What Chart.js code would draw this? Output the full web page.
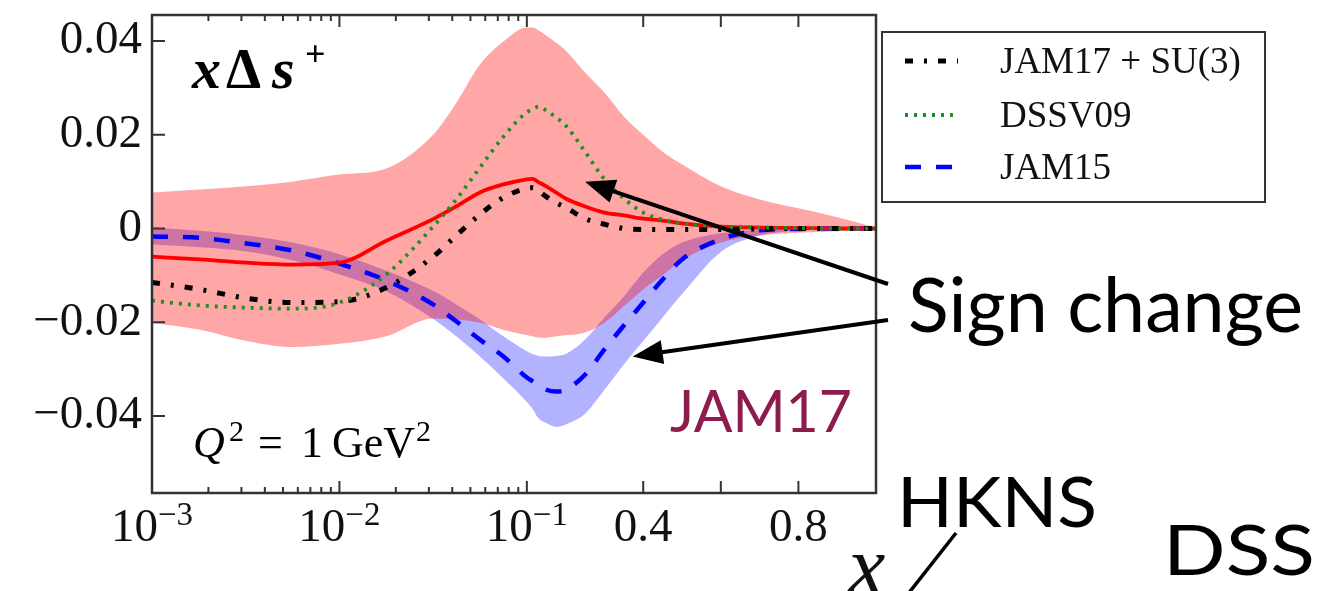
<!DOCTYPE html>
<html><head><meta charset="utf-8">
<script src="https://cdn.jsdelivr.net/npm/chart.js@4.4.1/dist/chart.umd.min.js"></script>
<style>html,body{margin:0;padding:0;background:#fff;overflow:hidden}canvas{display:block}</style>
</head><body>
<canvas id="c" width="1329" height="591"></canvas>
<script>
// ---------------- data ----------------
const xValues = [0.001, 0.0018, 0.0032, 0.0056, 0.01, 0.0178, 0.0316, 0.042, 0.0562, 0.075, 0.1, 0.115, 0.13, 0.15, 0.175, 0.2, 0.25, 0.3, 0.35, 0.4, 0.45, 0.5, 0.6, 0.7, 0.8, 0.9, 1.0];

const jam17Mean  = [-0.0060, -0.0066, -0.0073, -0.0077, -0.0073, -0.0026, 0.0020, 0.0047, 0.0077, 0.0094, 0.0105, 0.0106, 0.0099, 0.0090, 0.0077, 0.0064, 0.0047, 0.0034, 0.0028, 0.0021, 0.0017, 0.0011, 0.0004, 0.0002, 0.0001, 0.0000, 0.0000];
const jam17Upper = [0.0077, 0.0083, 0.0090, 0.0100, 0.0115, 0.0128, 0.0200, 0.0268, 0.0350, 0.0399, 0.0429, 0.0429, 0.0423, 0.0412, 0.0397, 0.0380, 0.0333, 0.0290, 0.0239, 0.0200, 0.0164, 0.0137, 0.0090, 0.0062, 0.0043, 0.0024, 0.0002];
const jam17Lower = [-0.0201, -0.0216, -0.0240, -0.0253, -0.0246, -0.0230, -0.0192, -0.0194, -0.0201, -0.0216, -0.0228, -0.0230, -0.0233, -0.0233, -0.0230, -0.0228, -0.0222, -0.0201, -0.0166, -0.0130, -0.0100, -0.0068, -0.0030, -0.0015, -0.0009, -0.0006, 0.0000];
const jam17SU3   = [-0.0115, -0.0130, -0.0149, -0.0158, -0.0156, -0.0126, -0.0060, -0.0015, 0.0030, 0.0066, 0.0086, 0.0087, 0.0080, 0.0068, 0.0055, 0.0045, 0.0021, 0.0009, 0.0000, -0.0002, -0.0002, -0.0002, -0.0002, -0.0001, 0.0000, 0.0000, 0.0000];
const dssv09     = [-0.0154, -0.0164, -0.0169, -0.0171, -0.0158, -0.0098, 0.0004, 0.0062, 0.0130, 0.0196, 0.0248, 0.0254, 0.0260, 0.0252, 0.0237, 0.0220, 0.0164, 0.0105, 0.0064, 0.0034, 0.0019, 0.0011, 0.0004, 0.0002, 0.0001, 0.0000, 0.0000];
const jam15Mean  = [-0.0017, -0.0020, -0.0032, -0.0047, -0.0075, -0.0111, -0.0162, -0.0198, -0.0237, -0.0273, -0.0318, -0.0326, -0.0335, -0.0344, -0.0348, -0.0344, -0.0312, -0.0258, -0.0207, -0.0158, -0.0109, -0.0066, -0.0023, -0.0004, -0.0001, 0.0000, 0.0000];
const jam15Upper = [0.0002, -0.0005, -0.0015, -0.0030, -0.0055, -0.0090, -0.0133, -0.0162, -0.0194, -0.0230, -0.0262, -0.0268, -0.0272, -0.0273, -0.0272, -0.0268, -0.0237, -0.0190, -0.0145, -0.0094, -0.0055, -0.0030, -0.0010, -0.0003, -0.0001, 0.0000, 0.0000];
const jam15Lower = [-0.0034, -0.0040, -0.0049, -0.0068, -0.0098, -0.0134, -0.0193, -0.0230, -0.0273, -0.0320, -0.0370, -0.0385, -0.0405, -0.0415, -0.0423, -0.0418, -0.0395, -0.0344, -0.0290, -0.0240, -0.0190, -0.0140, -0.0050, -0.0015, -0.0004, -0.0001, 0.0000];

const yTickValues = [-0.04, -0.02, 0, 0.02, 0.04];
const xMajorTicks = [0.001, 0.01, 0.1, 0.4, 0.6, 0.8];
const xTickValues = [0.001, 0.01, 0.1, 0.4, 0.8];
const xTickLabels = ['10^\u22123', '10^\u22122', '10^\u22121', '0.4', '0.8'];
const legendLabels = ['JAM17 + SU(3)', 'DSSV09', 'JAM15'];

// ---------------- mixed log / linear x axis ----------------
const LIN_SCALE = 2.07;           // linear part: axis units per unit of x
function u(x){ return x <= 0.1 ? Math.log10(x) + 3 : 2 + (x - 0.1) * LIN_SCALE; }
const U_MAX = u(1.0);
const xMinorTicks = [];
[0.001, 0.01].forEach(d => { for (let k = 2; k <= 9; k++) xMinorTicks.push(k * d); });

const P = arr => xValues.map((x, i) => ({x: u(x), y: arr[i]}));

const SERIF = '"Liberation Serif","DejaVu Serif",serif';
const HAND = 'Lato,"Open Sans",sans-serif';
const NONE = 'rgba(0,0,0,0)';

function fitText(ctx, txt, x, y, font, w, color){
  ctx.save(); ctx.font = font; ctx.fillStyle = color; ctx.textBaseline = 'alphabetic'; ctx.textAlign = 'left';
  const m = ctx.measureText(txt).width;
  ctx.translate(x, y); ctx.scale(w / m, 1); ctx.fillText(txt, 0, 0); ctx.restore();
}
function arrow(ctx, x0, y0, x1, y1){
  const ang = Math.atan2(y1 - y0, x1 - x0), L = 30, H = 12;
  const bx = x1 - L * Math.cos(ang), by = y1 - L * Math.sin(ang);
  ctx.beginPath(); ctx.moveTo(x0, y0); ctx.lineTo(bx + 6 * Math.cos(ang), by + 6 * Math.sin(ang)); ctx.stroke();
  ctx.beginPath(); ctx.moveTo(x1, y1);
  ctx.lineTo(bx - H * Math.sin(ang), by + H * Math.cos(ang));
  ctx.lineTo(bx + H * Math.sin(ang), by - H * Math.cos(ang));
  ctx.closePath(); ctx.fill();
}

const decor = {
  id: 'decor',
  afterDatasetsDraw(chart){
    const {ctx, chartArea: a, scales: {x: xs, y: ys}} = chart;
    ctx.save();
    ctx.strokeStyle = '#333'; ctx.lineWidth = 2;
    ctx.beginPath();
    xMajorTicks.forEach(v => { const p = xs.getPixelForValue(u(v));
      ctx.moveTo(p, a.bottom); ctx.lineTo(p, a.bottom - 12); ctx.moveTo(p, a.top); ctx.lineTo(p, a.top + 12); });
    xMinorTicks.forEach(v => { const p = xs.getPixelForValue(u(v));
      ctx.moveTo(p, a.bottom); ctx.lineTo(p, a.bottom - 6); ctx.moveTo(p, a.top); ctx.lineTo(p, a.top + 6); });
    yTickValues.forEach(v => { const p = ys.getPixelForValue(v); ctx.moveTo(a.left, p); ctx.lineTo(a.left + 13, p); });
    ctx.stroke();
    ctx.lineWidth = 2.5; ctx.strokeRect(a.left, a.top, a.right - a.left, a.bottom - a.top);
    ctx.restore();
  },
  afterDraw(chart){
    const {ctx, chartArea: a, scales: {x: xs, y: ys}} = chart;
    ctx.save();
    ctx.fillStyle = '#111'; ctx.textBaseline = 'alphabetic'; ctx.textAlign = 'left';
    // x tick labels with superscripts
    xTickValues.forEach((v, i) => {
      const [base, exp] = xTickLabels[i].split('^');
      const p = xs.getPixelForValue(u(v));
      ctx.font = '47px ' + SERIF; const wb = ctx.measureText(base).width;
      let we = 0; if (exp) { ctx.font = '33px ' + SERIF; we = ctx.measureText(exp).width; }
      const x0 = p - (wb + we) / 2;
      ctx.font = '47px ' + SERIF; ctx.fillText(base, x0, a.bottom + 48);
      if (exp) { ctx.font = '33px ' + SERIF; ctx.fillText(exp, x0 + wb, a.bottom + 32); }
    });
    // axis title x
    ctx.font = 'italic 84px ' + SERIF; ctx.fillText('x', 848, 594);
    // x Δ s+
    ctx.fillStyle = '#000';
    ctx.font = 'italic bold 58px ' + SERIF; ctx.fillText('x', 192, 88);
    ctx.font = 'bold 56px ' + SERIF; ctx.fillText('\u0394', 226, 88);
    ctx.font = 'italic bold 58px ' + SERIF; ctx.fillText('s', 272, 88);
    ctx.font = 'bold 36px ' + SERIF; ctx.fillText('+', 305, 66);
    // Q^2 = 1 GeV^2
    ctx.font = 'italic 44px ' + SERIF; ctx.fillText('Q', 193, 457);
    ctx.font = '30px ' + SERIF; ctx.fillText('2', 229, 441);
    ctx.font = '44px ' + SERIF; ctx.fillText('=', 258, 457);
    ctx.fillText('1', 301, 457);
    ctx.fillText('GeV', 332, 457);
    ctx.font = '30px ' + SERIF; ctx.fillText('2', 416, 441);
    // legend
    const lx = a.right + 6, ly = 32, lw = 383, lh = 170;
    ctx.fillStyle = '#fff'; ctx.fillRect(lx, ly, lw, lh);
    ctx.strokeStyle = '#333'; ctx.lineWidth = 2; ctx.strokeRect(lx, ly, lw, lh);
    const rows = [1, 2, 3];
    const rowY = [61, 115, 167];
    rows.forEach((di, r) => {
      const ds = chart.data.datasets[di];
      ctx.save();
      ctx.strokeStyle = ds.borderColor; ctx.lineWidth = ds.borderWidth; ctx.setLineDash(ds.borderDash || []);
      ctx.beginPath(); ctx.moveTo(lx + 23, rowY[r]); ctx.lineTo(lx + 76, rowY[r]); ctx.stroke();
      ctx.restore();
      ctx.fillStyle = '#111'; ctx.font = '37px ' + SERIF;
      ctx.fillText(legendLabels[r], lx + 118, rowY[r] + 12);
    });
    // annotations
    ctx.fillStyle = '#000'; ctx.strokeStyle = '#000'; ctx.lineWidth = 4;
    arrow(ctx, 888, 284, xs.getPixelForValue(u(0.25)), ys.getPixelForValue(0.0100));
    arrow(ctx, 888, 320, xs.getPixelForValue(u(0.373)), ys.getPixelForValue(-0.0273));
    ctx.lineWidth = 3.5;
    ctx.beginPath(); ctx.moveTo(956, 533); ctx.lineTo(908, 594); ctx.stroke();
    fitText(ctx, 'Sign change', 908, 332, '75px ' + HAND, 395, '#000');
    fitText(ctx, 'JAM17', 670, 432, '58px ' + HAND, 182, '#8c1c4e');
    fitText(ctx, 'HKNS', 897, 527, '70px ' + HAND, 200, '#000');
    fitText(ctx, 'DSS', 1163, 575, '70px ' + HAND, 152, '#000');
    ctx.restore();
  }
};

const lineBase = {pointRadius: 0, pointHoverRadius: 0, cubicInterpolationMode: 'monotone', fill: false};

new Chart(document.getElementById('c'), {
  type: 'line',
  data: {
    datasets: [
      Object.assign({label: 'JAM17', data: P(jam17Mean), borderColor: '#ff0000', borderWidth: 3.8, order: 3}, lineBase),
      Object.assign({label: 'JAM17 + SU(3)', data: P(jam17SU3), borderColor: '#000000', borderWidth: 5, borderDash: [8, 11, 3, 11], order: 2}, lineBase),
      Object.assign({label: 'DSSV09', data: P(dssv09), borderColor: '#1f8f1f', borderWidth: 3.8, borderDash: [3, 6], order: 1}, lineBase),
      Object.assign({label: 'JAM15', data: P(jam15Mean), borderColor: '#0000ff', borderWidth: 4.5, borderDash: [16, 15], order: 4}, lineBase),
      Object.assign({}, lineBase, {label: 'JAM17 band', data: P(jam17Upper), borderColor: NONE, borderWidth: 0, fill: '+1', backgroundColor: 'rgba(255,0,0,0.35)', order: 6}),
      Object.assign({}, lineBase, {label: 'JAM17 band lower', data: P(jam17Lower), borderColor: NONE, borderWidth: 0, order: 7}),
      Object.assign({}, lineBase, {label: 'JAM15 band', data: P(jam15Upper), borderColor: NONE, borderWidth: 0, fill: '+1', backgroundColor: 'rgba(0,0,255,0.3)', order: 8}),
      Object.assign({}, lineBase, {label: 'JAM15 band lower', data: P(jam15Lower), borderColor: NONE, borderWidth: 0, order: 9})
    ]
  },
  options: {
    responsive: false, animation: false, devicePixelRatio: 1, events: [],
    layout: {padding: {top: 15, right: 453, left: 0, bottom: 0}, autoPadding: false},
    plugins: {legend: {display: false}, tooltip: {enabled: false}},
    scales: {
      x: {type: 'linear', min: 0, max: U_MAX, grid: {display: false}, border: {display: false},
          ticks: {display: false},
          afterFit: s => { s.height = 98; s.paddingLeft = 0; s.paddingRight = 0; }},
      y: {type: 'linear', min: -0.05643, max: 0.04555, grid: {display: false, drawTicks: false}, border: {display: false},
          afterBuildTicks: s => { s.ticks = yTickValues.map(v => ({value: v})); },
          ticks: {padding: 10, color: '#111', font: {family: SERIF, size: 47},
                  callback: v => v === 0 ? '0' : (v < 0 ? '\u2212' : '') + Math.abs(v).toFixed(2)},
          afterFit: s => { s.width = 152; s.paddingTop = 0; s.paddingBottom = 0; }}
    }
  },
  plugins: [decor]
});
</script>
</body></html>
